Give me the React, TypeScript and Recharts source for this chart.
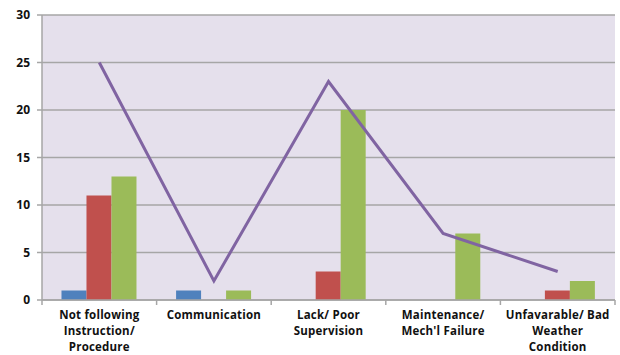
import React from "react";
import {
  ComposedChart,
  Bar,
  Line,
  XAxis,
  YAxis,
  CartesianGrid,
} from "recharts";

// ─── Data ───────────────────────────────────────────────────────────────────

const categories = [
  "Not following\nInstruction/\nProcedure",
  "Communication",
  "Lack/ Poor\nSupervision",
  "Maintenance/\nMech'l Failure",
  "Unfavarable/ Bad\nWeather\nCondition",
];
const blueValues = [1, 1, 0, 0, 0];
const redValues = [11, 0, 3, 0, 1];
const greenValues = [13, 1, 20, 7, 2];
const lineValues = [25, 2, 23, 7, 3];
const yTicks = [0, 5, 10, 15, 20, 25, 30];

const data = categories.map((name, i) => ({
  name,
  blue: blueValues[i],
  red: redValues[i],
  green: greenValues[i],
  total: lineValues[i],
}));

const FONT = "'Open Sans', 'DejaVu Sans', sans-serif";

// ─── Ticks ──────────────────────────────────────────────────────────────────

function CategoryTick(props: any) {
  const { x, y, payload, index } = props;
  const half = payload?.offset ?? 57;
  const lines = String(payload.value).split("\n");
  return (
    <g>
      <line x1={x - half} x2={x - half} y1={y} y2={y + 5} stroke="#A6A6A6" strokeWidth={1.5} />
      {index === categories.length - 1 && (
        <line x1={x + half} x2={x + half} y1={y} y2={y + 5} stroke="#A6A6A6" strokeWidth={1.5} />
      )}
      <text
        x={x}
        y={y + 19}
        textAnchor="middle"
        fontFamily={FONT}
        fontSize={11.5}
        fontWeight={700}
        letterSpacing={0.2}
        fill="#111"
      >
        {lines.map((l, i) => (
          <tspan key={i} x={x} dy={i === 0 ? 0 : 16}>
            {l}
          </tspan>
        ))}
      </text>
    </g>
  );
}

// ─── Chart ──────────────────────────────────────────────────────────────────

export default function App() {
  return (
    <div style={{ width: 620, height: 355, background: "#fff" }}>
      <style>{`body{margin:0}`}</style>
      <ComposedChart
        width={620}
        height={355}
        data={data}
        margin={{ top: 15, right: 5, left: 0, bottom: 0 }}
        barCategoryGap="17%"
        barGap={0}
      >
        <CartesianGrid
          vertical={false}
          stroke="#A6A6A6"
          strokeWidth={1.5}
          fill="#E5E0EC"
        />
        <XAxis
          dataKey="name"
          interval={0}
          height={55}
          axisLine={{ stroke: "#A6A6A6", strokeWidth: 1.5 }}
          tickLine={false}
          tickSize={0}
          tickMargin={0}
          tick={<CategoryTick />}
        />
        <YAxis
          width={42}
          domain={[0, 30]}
          ticks={yTicks}
          interval={0}
          axisLine={{ stroke: "#A6A6A6", strokeWidth: 1.5 }}
          tickLine={{ stroke: "#A6A6A6", strokeWidth: 1.5 }}
          tickSize={5}
          tickMargin={7}
          tick={{ fontFamily: FONT, fontSize: 12, fontWeight: 700, fill: "#111" }}
        />
        <Bar dataKey="blue" fill="#4F81BD" isAnimationActive={false} />
        <Bar dataKey="red" fill="#C0504D" isAnimationActive={false} />
        <Bar dataKey="green" fill="#9BBB59" isAnimationActive={false} />
        <Line
          type="linear"
          dataKey="total"
          stroke="#8064A2"
          strokeWidth={3}
          dot={false}
          isAnimationActive={false}
        />
      </ComposedChart>
    </div>
  );
}
